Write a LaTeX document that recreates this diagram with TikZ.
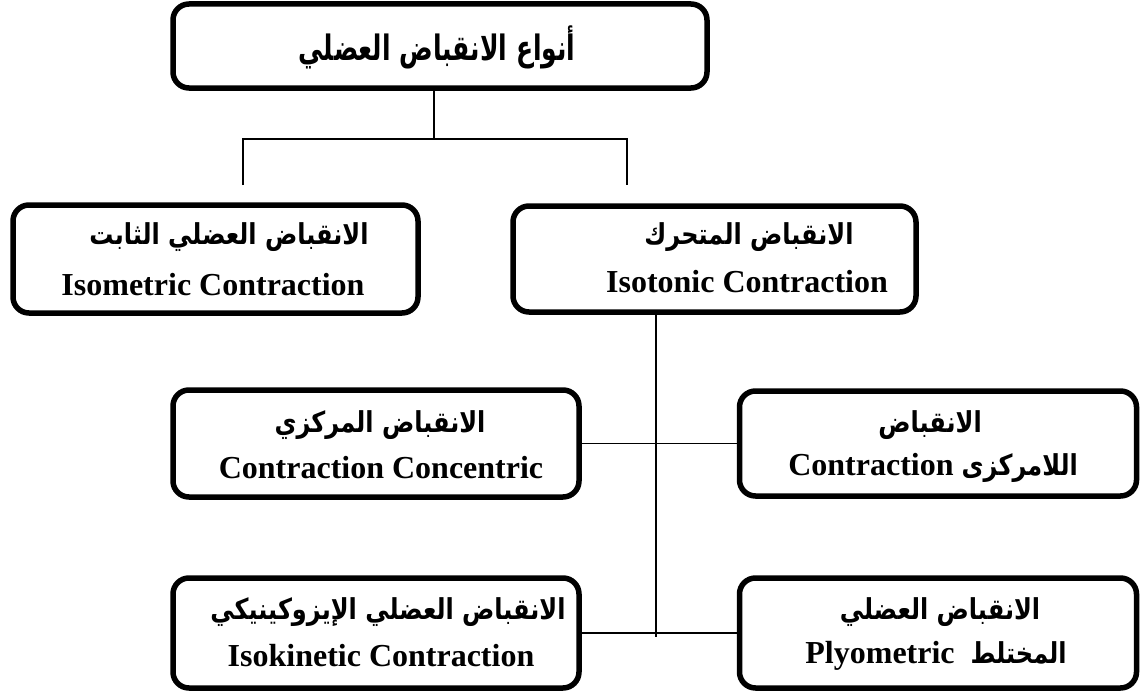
\documentclass[tikz,border=0pt]{standalone}
\usepackage{fontspec}
\setmainfont{Liberation Serif}
\newfontfamily\arabicfont[Script=Arabic]{DejaVu Sans}
\TeXXeTstate=1
\newcommand\AR[1]{\scalebox{1}[1.2]{\beginR #1\endR}}
\newcommand\ARtitle[1]{\scalebox{1}[1.4]{\beginR #1\endR}}
\newcommand\arsz{\arabicfont\fontsize{24}{28}\selectfont}
\tikzset{
  box/.style={draw, line width=5.5pt, rounded corners=16pt, inner sep=0pt, fill=white},
  conn/.style={line width=1.7pt},
  en/.style={font=\fontsize{32}{36}\selectfont\bfseries, inner sep=0pt},
  ar/.style={font=\arsz\bfseries, inner sep=0pt},
  artitle/.style={font=\arabicfont\fontsize{25}{30}\selectfont\bfseries, inner sep=0pt},
}
\begin{document}
\begin{tikzpicture}[x=1pt,y=-1pt]
\useasboundingbox (0,0) rectangle (1143,693);
% boxes
\node[box, minimum width=534pt, minimum height=84pt]  (top)  at (440,46) {};
\node[box, minimum width=405pt, minimum height=108pt] (isom) at (215.5,259) {};
\node[box, minimum width=403pt, minimum height=106pt] (isot) at (714.5,259) {};
\node[box, minimum width=406pt, minimum height=107pt] (conc) at (376,443.5) {};
\node[box, minimum width=397pt, minimum height=105pt] (rmid) at (938,443.5) {};
\node[box, minimum width=406pt, minimum height=110pt] (isok) at (376,633) {};
\node[box, minimum width=397pt, minimum height=110pt] (plyo) at (938,633) {};
% texts
\node[artitle] (t0) at (437,47) {\ARtitle{أنواع الانقباض العضلي}};
\node[ar] (t1a) at (229,237) {\AR{الانقباض العضلي الثابت}};
\node[en] (t1b) at (213,285) {Isometric Contraction};
\node[ar] (t2a) at (749,237) {\AR{الانقباض المتحرك}};
\node[en] (t2b) at (747,282) {Isotonic Contraction};
\node[ar] (t3a) at (380,425) {\AR{الانقباض المركزي}};
\node[en] (t3b) at (381,468) {Contraction Concentric};
\node[ar] (t4a) at (930,425) {\AR{الانقباض}};
\node[en] (t4b) at (933,468) {Contraction {\arsz\AR{اللامركزى}}};
\node[ar] (t5a) at (388,612) {\AR{الانقباض العضلي الإيزوكينيكي}};
\node[en] (t5b) at (381,656) {Isokinetic Contraction};
\node[ar] (t6a) at (940,612) {\AR{الانقباض العضلي}};
\node[en] (t6b) at (936,656) {Plyometric\ \ {\arsz\AR{المختلط}}};
% connectors
\coordinate (hj) at (434,139);
\coordinate (bl) at (243,185);
\coordinate (br) at (627,185);
\coordinate (j2) at (656,637);
\draw[conn] (hj |- top.south) -- (hj);
\draw[conn] (bl) -- (bl |- hj) -- (br |- hj) -- (br);
\draw[conn] (isot.south -| j2) -- (j2);
\draw[conn] (conc.east) -- (rmid.west);
\draw[conn] (isok.east) -- (plyo.west);
\end{tikzpicture}
\end{document}
